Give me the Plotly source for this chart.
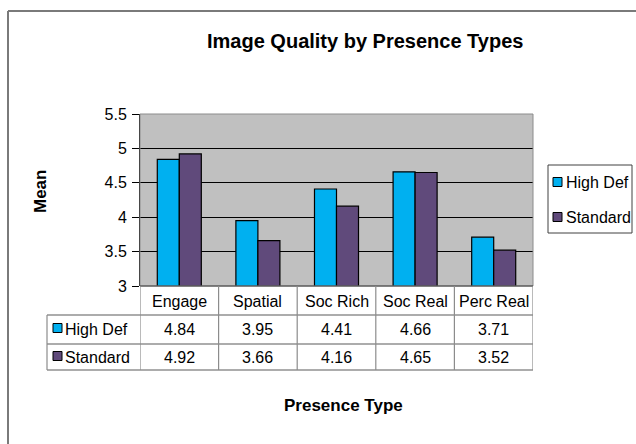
import plotly.graph_objects as go

categories = ["Engage", "Spatial", "Soc Rich", "Soc Real", "Perc Real"]
high_def = [4.84, 3.95, 4.41, 4.66, 3.71]
standard = [4.92, 3.66, 4.16, 4.65, 3.52]
series_names = ["High Def", "Standard"]
colors = ["#00B0F0", "#604A7B"]

W, H = 636, 444
def px(x): return x / W
def py(y): return (H - y) / H

FONT = "Liberation Sans, Arial, sans-serif"
FS = 16

fig = go.Figure()
for i, (name, vals) in enumerate(zip(series_names, [high_def, standard])):
    fig.add_trace(go.Bar(
        x=categories, y=vals, name=name,
        marker=dict(color=colors[i], line=dict(color="black", width=1.2)),
        showlegend=False,
    ))

shapes = []
annotations = []

# outer chart border (left and top edges visible)
shapes.append(dict(type="line", xref="paper", yref="paper",
                   x0=px(8), x1=1, y0=py(11), y1=py(11),
                   line=dict(color="#7a7a7a", width=2)))
shapes.append(dict(type="line", xref="paper", yref="paper",
                   x0=px(8), x1=px(8), y0=0, y1=py(11),
                   line=dict(color="#7a7a7a", width=2)))
# plot area border (gray)
shapes.append(dict(type="rect", xref="paper", yref="paper",
                   x0=px(140), x1=px(533), y0=py(286), y1=py(114),
                   line=dict(color="#8c8c8c", width=1), layer="above"))

# table rows
row_lines = [286, 315, 344, 370]
for y in row_lines[1:]:
    shapes.append(dict(type="line", xref="paper", yref="paper",
                       x0=px(47), x1=px(533), y0=py(y), y1=py(y),
                       line=dict(color="#5a5a5a", width=1.2)))
shapes.append(dict(type="line", xref="paper", yref="paper",
                   x0=px(140), x1=px(533), y0=py(286), y1=py(286),
                   line=dict(color="#404040", width=1.2)))
shapes.append(dict(type="line", xref="paper", yref="paper",
                   x0=px(47), x1=px(47), y0=py(315), y1=py(370),
                   line=dict(color="#8c8c8c", width=1.2)))
for k in range(len(categories) + 1):
    shapes.append(dict(type="line", xref="x", yref="paper",
                       x0=k - 0.5, x1=k - 0.5, y0=py(286), y1=py(370),
                       line=dict(color="#8c8c8c", width=1.2)))

row_centers = [301, 329, 357]
for j, c in enumerate(categories):
    annotations.append(dict(x=j, y=py(row_centers[0]), xref="x", yref="paper",
                            text=c, showarrow=False, yanchor="middle",
                            font=dict(family=FONT, size=FS, color="black")))
    for r, vals in enumerate([high_def, standard]):
        annotations.append(dict(x=j, y=py(row_centers[r + 1]), xref="x", yref="paper",
                                text=f"{vals[j]:.2f}", showarrow=False, yanchor="middle",
                                font=dict(family=FONT, size=FS, color="black")))

# series labels with key squares in table
for r, name in enumerate(series_names):
    yc = row_centers[r + 1] - 1
    shapes.append(dict(type="rect", xref="paper", yref="paper",
                       x0=px(53), x1=px(62), y0=py(yc + 4.5), y1=py(yc - 4.5),
                       fillcolor=colors[r], line=dict(color="black", width=1)))
    annotations.append(dict(x=px(63), y=py(row_centers[r + 1]), xref="paper", yref="paper",
                            text=name, showarrow=False, xanchor="left", yanchor="middle",
                            font=dict(family=FONT, size=FS, color="black")))

# manual legend
shapes.append(dict(type="rect", xref="paper", yref="paper",
                   x0=px(548), x1=px(632), y0=py(233), y1=py(165),
                   fillcolor="white", line=dict(color="#404040", width=1)))
legend_y = [182, 217]
for r, name in enumerate(series_names):
    yc = legend_y[r]
    shapes.append(dict(type="rect", xref="paper", yref="paper",
                       x0=px(553), x1=px(562), y0=py(yc + 4.5), y1=py(yc - 4.5),
                       fillcolor=colors[r], line=dict(color="black", width=1)))
    annotations.append(dict(x=px(564), y=py(yc), xref="paper", yref="paper",
                            text=name, showarrow=False, xanchor="left", yanchor="middle",
                            font=dict(family=FONT, size=FS, color="black")))

# titles
annotations.append(dict(x=px(365), y=py(41), xref="paper", yref="paper",
                        text="<b>Image Quality by Presence Types</b>", showarrow=False,
                        yanchor="middle",
                        font=dict(family=FONT, size=20, color="black")))
annotations.append(dict(x=px(343), y=py(405), xref="paper", yref="paper",
                        text="<b>Presence Type</b>", showarrow=False, yanchor="middle",
                        font=dict(family=FONT, size=17, color="black")))
annotations.append(dict(x=px(40), y=py(192), xref="paper", yref="paper",
                        text="<b>Mean</b>", showarrow=False, textangle=-90,
                        xanchor="center", yanchor="middle",
                        font=dict(family=FONT, size=17, color="black")))

fig.update_layout(
    width=W, height=H,
    margin=dict(l=0, r=0, t=0, b=0, autoexpand=False),
    paper_bgcolor="white",
    plot_bgcolor="#C0C0C0",
    barmode="group", bargap=0.44, bargroupgap=0,
    font=dict(family=FONT, size=FS, color="black"),
    showlegend=False,
    xaxis=dict(domain=[px(140), px(533)], range=[-0.5, 4.5],
               showticklabels=False, showgrid=False, ticks="",
               showline=False, zeroline=False, fixedrange=True),
    yaxis=dict(domain=[py(286), py(114)], range=[3, 5.5],
               tickvals=[3, 3.5, 4, 4.5, 5, 5.5],
               ticktext=["3", "3.5", "4", "4.5", "5", "5.5"],
               showgrid=True, gridcolor="black", gridwidth=1,
               showline=True, linecolor="black", linewidth=1,
               ticks="outside", ticklen=7, tickcolor="black",
               ticklabelstandoff=2,
               tickfont=dict(family=FONT, size=FS, color="black"),
               zeroline=False, fixedrange=True),
    shapes=shapes,
    annotations=annotations,
)

fig.write_html("out.html")
